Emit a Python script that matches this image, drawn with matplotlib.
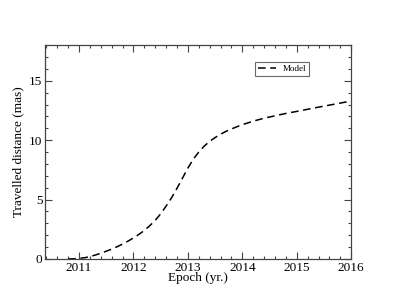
import numpy as np
import matplotlib
matplotlib.use("Agg")
import matplotlib.pyplot as plt
from matplotlib.ticker import MultipleLocator

# curve
epoch = [2010.8, 2010.9, 2011.0, 2011.1, 2011.2, 2011.3, 2011.4, 2011.5, 2011.6,
         2011.7, 2011.8, 2011.9, 2012.0, 2012.1, 2012.2, 2012.3, 2012.4, 2012.5,
         2012.6, 2012.7, 2012.8, 2012.9, 2013.0, 2013.1, 2013.2, 2013.3, 2013.4,
         2013.5, 2013.6, 2013.7, 2013.8, 2013.9, 2014.0, 2014.2, 2014.4, 2014.6,
         2014.8, 2015.0, 2015.2, 2015.4, 2015.6, 2015.8, 2016.0]
distance = [0.0, 0.01, 0.05, 0.1, 0.2, 0.33, 0.48, 0.65, 0.83,
            1.03, 1.25, 1.5, 1.77, 2.07, 2.4, 2.8, 3.25, 3.8,
            4.45, 5.15, 5.95, 6.8, 7.65, 8.4, 9.0, 9.5, 9.9,
            10.22, 10.5, 10.74, 10.94, 11.13, 11.3, 11.6, 11.85, 12.05,
            12.25, 12.42, 12.6, 12.78, 12.95, 13.12, 13.3]

plt.rcParams["font.family"] = ["Liberation Serif", "DejaVu Serif"]
plt.rcParams["mathtext.fontset"] = "stix"

fig = plt.figure(figsize=(3.95, 3.05), dpi=100)
ax = fig.add_axes([0.114, 0.151, 0.775, 0.701])

ax.plot(epoch, distance, color="black", linestyle=(0, (5, 3)), linewidth=1.1, label="Model")

ax.set_xlim(2010.375, 2016)
ax.set_ylim(0, 18)
ax.xaxis.set_major_locator(MultipleLocator(1))
ax.xaxis.set_minor_locator(MultipleLocator(0.2))
ax.yaxis.set_major_locator(MultipleLocator(5))
ax.yaxis.set_minor_locator(MultipleLocator(1))
ax.tick_params(which="both", direction="in", top=True, right=True, labelsize=9.5,
               color="#444444", width=0.8)
ax.tick_params(which="major", length=5, pad=2)
ax.tick_params(which="minor", length=2.5)
for s in ax.spines.values():
    s.set_color("#444444")
    s.set_linewidth(0.9)

ax.set_xlabel("Epoch (yr.)", fontsize=9.5, labelpad=-1)
ax.set_ylabel("Travelled distance (mas)", fontsize=9.5, labelpad=3)

leg = ax.legend(loc="center", bbox_to_anchor=(0.775, 0.888), fontsize=6.5,
                frameon=True, fancybox=False, handlelength=2.0, borderpad=0.3,
                handletextpad=0.8)
leg.get_frame().set_edgecolor("#444444")
leg.get_frame().set_linewidth(0.8)

fig.savefig("out.png", dpi=100)
